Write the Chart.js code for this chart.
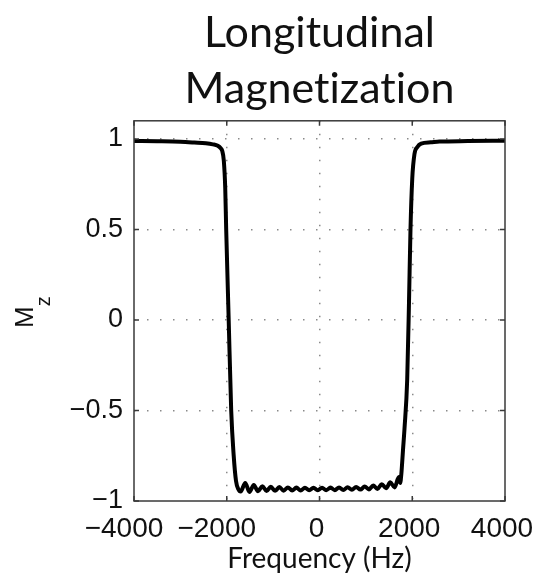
<!DOCTYPE html>
<html>
<head>
<meta charset="utf-8">
<script src="https://cdn.jsdelivr.net/npm/chart.js@4.4.1/dist/chart.umd.min.js"></script>
<style>
  html, body { margin: 0; padding: 0; background: #fff; }
</style>
</head>
<body>
<canvas id="mzChart" width="537" height="578"></canvas>
<script>
// Longitudinal magnetization after an inversion pulse
const freqHz = [
  -4000, -3500, -3000, -2700, -2450, -2300, -2193, -2130, -2098, -2063, -2033, -2012,
  -1958, -1904, -1850, -1800, -1750, -1700,
  -1602, -1510, -1418, -1326, -1234, -1142, -1050, -958, -866, -774, -682, -590,
  -498, -406, -314, -222, -130, -38, 54, 146, 238, 330, 422, 514, 606, 698,
  790, 882, 974, 1066, 1158, 1250, 1343, 1435, 1527, 1619, 1711,
  1740, 1765, 1800, 1833, 1891, 1930, 1962, 2000, 2048, 2110, 2192, 2400, 2588, 3200, 4000
];
const mz = [
  0.989, 0.987, 0.984, 0.980, 0.976, 0.970, 0.962, 0.948, 0.934, 0.879, 0.73, 0.5,
  0.0, -0.5, -0.75, -0.89, -0.935, -0.948,
  -0.900, -0.950, -0.912, -0.946, -0.918, -0.945, -0.921, -0.944, -0.923, -0.943, -0.925, -0.942,
  -0.926, -0.942, -0.927, -0.941, -0.927, -0.941, -0.927, -0.940, -0.926, -0.940, -0.925, -0.939, -0.924, -0.938,
  -0.922, -0.937, -0.920, -0.936, -0.915, -0.934, -0.907, -0.930, -0.897, -0.925, -0.868,
  -0.90, -0.85, -0.72, -0.60, -0.33, 0.1, 0.5, 0.78, 0.917, 0.955, 0.974, 0.981, 0.985, 0.988, 0.990
];
const xTicks = [-4000, -2000, 0, 2000, 4000];
const yTicks = [-1, -0.5, 0, 0.5, 1];
// ZWNJ keeps Lato from drawing its "ti" ligature
const titleLines = ['Longitudinal', 'Magnet\u200Cizat\u200Cion'];
const xLabel = 'Frequency (Hz)';

const minus = v => String(v).replace('-', '\u2212');

// box around the plot, inward tick marks and the M_z label (needs a subscript)
const frameAndLabel = {
  id: 'frameAndLabel',
  afterDraw(chart) {
    const { ctx, chartArea: a, scales: { x, y } } = chart;
    ctx.save();
    ctx.strokeStyle = '#3a3a3a';
    ctx.lineWidth = 1.5;
    ctx.strokeRect(a.left, a.top, a.right - a.left, a.bottom - a.top);
    ctx.beginPath();
    x.ticks.forEach(t => {
      const px = x.getPixelForValue(t.value);
      ctx.moveTo(px, a.bottom); ctx.lineTo(px, a.bottom - 5);
      ctx.moveTo(px, a.top); ctx.lineTo(px, a.top + 5);
    });
    y.ticks.forEach(t => {
      const py = y.getPixelForValue(t.value);
      ctx.moveTo(a.left, py); ctx.lineTo(a.left + 5, py);
      ctx.moveTo(a.right, py); ctx.lineTo(a.right - 5, py);
    });
    ctx.stroke();

    ctx.fillStyle = '#111';
    ctx.translate(33, 312);
    ctx.rotate(-Math.PI / 2);
    ctx.textBaseline = 'alphabetic';
    ctx.textAlign = 'left';
    ctx.font = '26px "Liberation Sans"';
    const mW = ctx.measureText('M').width;
    ctx.fillText('M', -16, 0);
    ctx.font = '20px "Liberation Sans"';
    ctx.fillText('z', -16 + mW, 17);
    ctx.restore();
  }
};

const edgeFree = (ctx, edges) =>
  edges.includes(ctx.tick && ctx.tick.value) ? 'rgba(0,0,0,0)' : '#8a8a8a';

new Chart(document.getElementById('mzChart'), {
  type: 'line',
  data: {
    datasets: [{
      data: freqHz.map((f, i) => ({ x: f, y: mz[i] })),
      borderColor: '#000',
      borderWidth: 4,
      pointRadius: 0,
      cubicInterpolationMode: 'monotone',
      fill: false
    }]
  },
  options: {
    responsive: false,
    animation: false,
    layout: { padding: { left: 0, right: 32, top: 0, bottom: 0 } },
    plugins: {
      legend: { display: false },
      tooltip: { enabled: false },
      title: {
        display: true,
        text: titleLines,
        fullSize: false,
        color: '#111',
        font: { family: 'Lato', size: 43, weight: 'normal', lineHeight: 1.3 },
        padding: { top: 5, bottom: 4 }
      }
    },
    scales: {
      x: {
        type: 'linear',
        min: -4000, max: 4000,
        afterBuildTicks: s => { s.ticks = xTicks.map(v => ({ value: v })); },
        afterFit: s => { s.height = 77; s.paddingLeft = 0; s.paddingRight = 0; },
        grid: {
          drawTicks: false,
          lineWidth: 1.5,
          color: c => edgeFree(c, [-4000, 4000])
        },
        border: { display: false, dash: [1.5, 11.5] },
        ticks: {
          autoSkip: false,
          padding: 11,
          labelOffset: -3,
          color: '#111',
          font: { family: 'Liberation Sans', size: 28 },
          maxRotation: 0,
          // negative labels sit a little left of their tick in the original
          callback: v => v < 0 ? minus(v) + '\u2002' : minus(v)
        },
        title: {
          display: true,
          text: xLabel,
          color: '#111',
          font: { family: 'Lato', size: 28, weight: 'normal' },
          padding: { top: 0, bottom: 2 }
        }
      },
      y: {
        type: 'linear',
        min: -1, max: 1.1,
        afterBuildTicks: s => { s.ticks = yTicks.map(v => ({ value: v })); },
        afterFit: s => { s.width = 134; s.paddingTop = 0; s.paddingBottom = 0; },
        grid: {
          drawTicks: false,
          lineWidth: 1.5,
          color: c => edgeFree(c, [-1])
        },
        border: { display: false, dash: [1.5, 11.5] },
        ticks: {
          padding: 11,
          color: '#111',
          font: { family: 'Liberation Sans', size: 27 },
          callback: v => minus(v)
        }
      }
    }
  },
  plugins: [frameAndLabel]
});
</script>
</body>
</html>
